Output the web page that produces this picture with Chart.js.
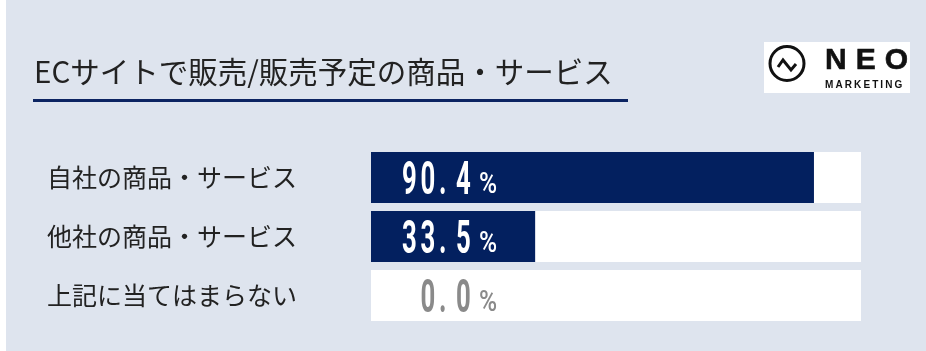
<!DOCTYPE html>
<html lang="ja">
<head>
<meta charset="utf-8">
<script src="https://cdn.jsdelivr.net/npm/chart.js@4.4.1/dist/chart.umd.min.js"></script>
<style>
  html, body { margin: 0; padding: 0; }
  body {
    width: 926px; height: 351px; position: relative; overflow: hidden;
    background: #dee4ee;
    font-family: "Noto Sans CJK JP", "Noto Sans", sans-serif;
  }
  .edge { position: absolute; left: 0; top: 0; width: 6px; height: 351px; background: #fff; }
  #chartWrap { position: absolute; left: 0; top: 0; width: 926px; height: 351px; }
  .title {
    position: absolute; left: 34px; top: 55px;
    font-size: 29.5px; line-height: 30px; color: #222; white-space: nowrap;
  }
  .rule { position: absolute; left: 33px; top: 99px; width: 595px; height: 3px; background: #0c2462; }
  .logo { position: absolute; left: 764px; top: 42px; width: 146px; height: 51px; background: #fff; }
  .logo svg { position: absolute; left: 0; top: 0; }
  .neo {
    position: absolute; left: 61px; top: 2px;
    font: 900 30px/30px "Liberation Sans", Arial, sans-serif; letter-spacing: 9px; color: #111;
    -webkit-text-stroke: 0.6px #111;
  }
  .mkt {
    position: absolute; left: 61px; top: 38px;
    font: bold 10px/10px "Liberation Sans", Arial, sans-serif; letter-spacing: 2.1px; color: #111;
  }
</style>
</head>
<body>
<div class="edge"></div>
<div id="chartWrap"><canvas id="shareChart"></canvas></div>
<div class="title">ECサイトで販売/販売予定の商品・サービス</div>
<div class="rule"></div>
<div class="logo">
  <svg width="60" height="51" viewBox="0 0 60 51">
    <circle cx="23" cy="21.5" r="17" fill="none" stroke="#111" stroke-width="3"/>
    <polyline points="14,25 19,18 27,28 32,22" fill="none" stroke="#111" stroke-width="3" stroke-linejoin="miter"/>
  </svg>
  <div class="neo">NEO</div>
  <div class="mkt">MARKETING</div>
</div>
<script>
const categories = ['自社の商品・サービス', '他社の商品・サービス', '上記に当てはまらない'];
const shares = [90.4, 33.5, 0.0];
const fullScale = [100, 100, 100];

const NAVY = '#03205f';

// draws "90. 4 %" style labels at a fixed spot inside each bar
const valueLabels = {
  id: 'valueLabels',
  afterDatasetsDraw(chart) {
    const ctx = chart.ctx;
    const area = chart.chartArea;
    const meta = chart.getDatasetMeta(0);
    const lastLeft = area.left + 85;
    const pctLeft = area.left + 108;
    meta.data.forEach((bar, i) => {
      const txt = shares[i].toFixed(1);
      const base = bar.y + 16;
      const color = bar.x > pctLeft + 22 ? '#ffffff' : '#8a8a8a';
      const adv = ch => (ch === '.' ? 17 : 18.5);
      let x = lastLeft;
      for (let k = 0; k < txt.length - 1; k++) x -= adv(txt[k]);
      ctx.save();
      ctx.fillStyle = color;
      ctx.textBaseline = 'alphabetic';
      ctx.textAlign = 'left';
      for (const ch of txt) {
        ctx.save();
        ctx.translate(x, base);
        ctx.scale(0.56, 1);
        ctx.font = '700 46px Roboto';
        ctx.fillText(ch, 0, 0);
        ctx.restore();
        x += adv(ch);
      }
      ctx.save();
      ctx.translate(pctLeft, base - 1);
      ctx.scale(0.82, 1);
      ctx.font = '500 30px Roboto';
      ctx.fillText('%', 0, 0);
      ctx.restore();
      ctx.restore();
    });
  }
};

new Chart(document.getElementById('shareChart'), {
  type: 'bar',
  data: {
    labels: categories,
    datasets: [
      {
        data: shares,
        backgroundColor: NAVY,
        grouped: false,
        categoryPercentage: 1,
        barPercentage: 0.864
      },
      {
        data: fullScale,
        backgroundColor: '#ffffff',
        grouped: false,
        categoryPercentage: 1,
        barPercentage: 0.864
      }
    ]
  },
  options: {
    indexAxis: 'y',
    responsive: true,
    maintainAspectRatio: false,
    animation: false,
    layout: { padding: { left: 47, right: 65, top: 148, bottom: 26 } },
    plugins: {
      legend: { display: false },
      tooltip: { enabled: false }
    },
    scales: {
      x: { display: false, min: 0, max: 100 },
      y: {
        grid: { display: false },
        border: { display: false },
        afterFit: function (scale) { scale.width = 324; },
        ticks: {
          crossAlign: 'far',
          color: '#222222',
          font: { family: '"Noto Sans CJK JP"', size: 25 }
        }
      }
    }
  },
  plugins: [valueLabels]
});
</script>
</body>
</html>
